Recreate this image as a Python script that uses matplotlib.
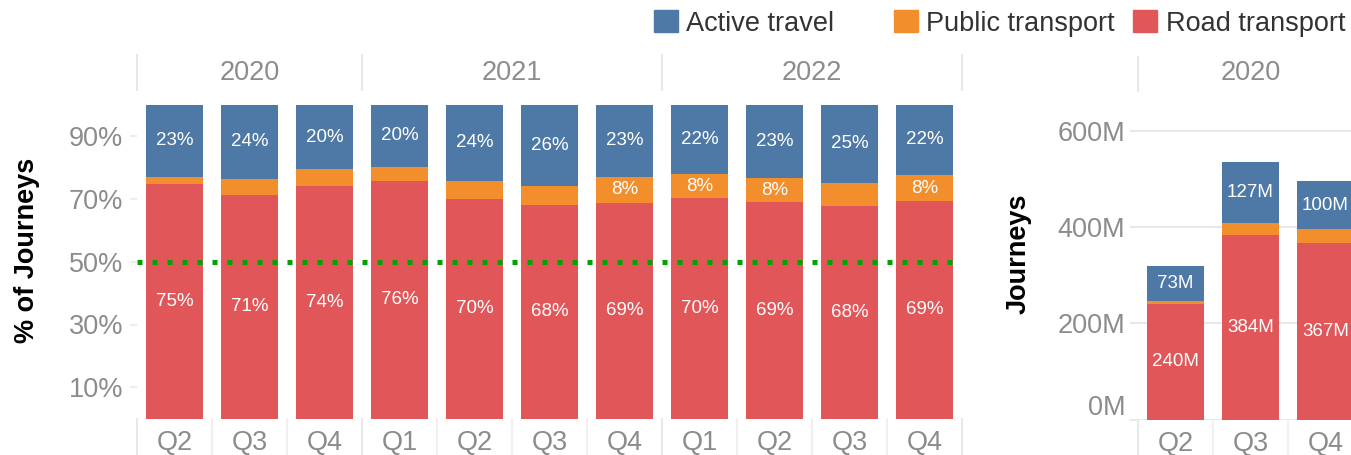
import matplotlib
matplotlib.use('Agg')
import matplotlib.pyplot as plt
import matplotlib.transforms as mtransforms
from matplotlib.patches import Patch

plt.rcParams['font.family'] = ['Liberation Sans', 'DejaVu Sans']

# ---- data ----
quarters = ['Q2', 'Q3', 'Q4', 'Q1', 'Q2', 'Q3', 'Q4', 'Q1', 'Q2', 'Q3', 'Q4']
years = ['2020', '2021', '2022']
year_bounds = [-0.5, 2.5, 6.5, 10.5]

road_pct = [74.7, 71.2, 74.1, 75.7, 70.0, 68.0, 68.7, 70.3, 68.9, 67.7, 69.3]
public_pct = [2.3, 5.1, 5.4, 4.5, 5.7, 6.1, 8.3, 7.6, 7.6, 7.4, 8.3]
active_pct = [23.0, 23.7, 20.4, 19.8, 24.3, 25.9, 23.0, 22.1, 23.4, 24.9, 22.4]

abs_quarters = ['Q2', 'Q3', 'Q4']
road_m = [240, 384, 367]
public_m = [7, 24, 28]
active_m = [73, 127, 100]

series = ['Active travel', 'Public transport', 'Road transport']

C_ACTIVE = '#4e79a7'
C_PUBLIC = '#f28e2b'
C_ROAD = '#e15759'
GREY = '#8c8c8c'
LIGHT = '#e8e8e8'

W, H = 1351, 455
fig = plt.figure(figsize=(W / 100, H / 100), dpi=100)

# ---- left: share of journeys ----
ax1 = fig.add_axes([137 / W, 1 - 418.7 / H, 825 / W, 314 / H])
x = list(range(len(quarters)))
bw = 0.76
bottom_pub = road_pct
bottom_act = [r + p for r, p in zip(road_pct, public_pct)]
ax1.bar(x, road_pct, bw, color=C_ROAD)
ax1.bar(x, public_pct, bw, bottom=bottom_pub, color=C_PUBLIC)
ax1.bar(x, active_pct, bw, bottom=bottom_act, color=C_ACTIVE)

for i in x:
    ax1.text(i, road_pct[i] / 2, f'{road_pct[i]:.0f}%', ha='center', va='center',
             color='white', fontsize=13.5)
    ax1.text(i, bottom_act[i] + active_pct[i] / 2, f'{active_pct[i]:.0f}%',
             ha='center', va='center', color='white', fontsize=13.5)
    if round(public_pct[i]) >= 8:
        ax1.text(i, bottom_pub[i] + public_pct[i] / 2, f'{public_pct[i]:.0f}%',
                 ha='center', va='center', color='white', fontsize=13.5)

ax1.axhline(50, color='#00a300', lw=3.6, ls=(0, (1, 2)), zorder=3)
ax1.set_xlim(-0.5, 10.5)
ax1.set_ylim(0, 100)
ax1.set_yticks([10, 30, 50, 70, 90])
ax1.set_yticklabels(['10%', '30%', '50%', '70%', '90%'])
ax1.set_xticks(x)
ax1.set_xticklabels(quarters)
ax1.tick_params(axis='y', colors='#ededed', labelcolor=GREY, labelsize=19.5,
                length=5, width=1.5, pad=5)
ax1.tick_params(axis='x', length=0, labelcolor=GREY, labelsize=19.5, pad=8)
for s in ax1.spines.values():
    s.set_visible(False)
ax1.set_ylabel('% of Journeys', fontsize=19.5, fontweight='bold', color='black')
ax1.yaxis.set_label_coords(-0.117, 0.537)

tr1 = mtransforms.blended_transform_factory(ax1.transData, ax1.transAxes)
for b in year_bounds:
    ax1.plot([b, b], [1.047, 1.158], color=LIGHT, lw=1.5, transform=tr1, clip_on=False)
for b in [q - 0.5 for q in range(len(quarters) + 1)]:
    ax1.plot([b, b], [0, -0.115], color=LIGHT if b in year_bounds else '#f0f0f0',
             lw=1.5, transform=tr1, clip_on=False)
for yr, a, b in zip(years, year_bounds[:-1], year_bounds[1:]):
    ax1.text((a + b) / 2, 1.101, yr, ha='center', va='center', color=GREY,
             fontsize=19.5, transform=tr1)

# ---- right: absolute journeys ----
ax2 = fig.add_axes([1138 / W, 1 - 419.6 / H, 225 / W, 313 / H])
x2 = list(range(len(abs_quarters)))
bot_pub_m = road_m
bot_act_m = [r + p for r, p in zip(road_m, public_m)]
ax2.bar(x2, road_m, bw, color=C_ROAD, zorder=2)
ax2.bar(x2, public_m, bw, bottom=bot_pub_m, color=C_PUBLIC, zorder=2)
ax2.bar(x2, active_m, bw, bottom=bot_act_m, color=C_ACTIVE, zorder=2)
for i in x2:
    ax2.text(i, road_m[i] / 2, f'{road_m[i]}M', ha='center', va='center',
             color='white', fontsize=13.5, zorder=3)
    ax2.text(i, bot_act_m[i] + active_m[i] / 2, f'{active_m[i]}M', ha='center',
             va='center', color='white', fontsize=13.5, zorder=3)

ax2.set_xlim(-0.5, 2.5)
ax2.set_ylim(0, 650)
ax2.set_yticks([0, 200, 400, 600])
ax2.set_yticklabels(['0M', '200M', '400M', '600M'])
ax2.set_xticks(x2)
ax2.set_xticklabels(abs_quarters)
ax2.grid(axis='y', color=LIGHT, lw=1.5, zorder=0)
ax2.tick_params(axis='y', colors=LIGHT, labelcolor=GREY, labelsize=19.5,
                length=6, width=1.5, pad=3)
ax2.tick_params(axis='x', length=0, labelcolor=GREY, labelsize=19.5, pad=8)
for s in ax2.spines.values():
    s.set_visible(False)
# lift the 0M label like the original
zero_lbl = ax2.get_yticklabels()[0]
zero_lbl.set_transform(zero_lbl.get_transform()
                       + mtransforms.ScaledTranslation(0, 0.15, fig.dpi_scale_trans))
ax2.axhline(0, color='#dddddd', lw=1, ls=(0, (3, 3)), zorder=1)
ax2.set_ylabel('Journeys', fontsize=19.5, fontweight='bold', color='black')
ax2.yaxis.set_label_coords(-0.471, 0.529)

tr2 = mtransforms.blended_transform_factory(ax2.transData, ax2.transAxes)
ax2.plot([-0.5, -0.5], [1.05, 1.16], color=LIGHT, lw=1.5, transform=tr2, clip_on=False)
for b in [-0.5, 0.5, 1.5]:
    ax2.plot([b, b], [0, -0.115], color=LIGHT if b == -0.5 else '#f0f0f0',
             lw=1.5, transform=tr2, clip_on=False)
ax2.text(1, 1.107, '2020', ha='center', va='center', color=GREY, fontsize=19.5,
         transform=tr2)

# ---- legend (one entry each, placed like the original) ----
legend_x = [654, 894, 1133]
for name, col, lx in zip(series, [C_ACTIVE, C_PUBLIC, C_ROAD], legend_x):
    fig.legend(handles=[Patch(color=col, label=name)], loc='upper left',
               bbox_to_anchor=(lx / W, 1 - 10 / H), frameon=False, fontsize=19.5,
               labelcolor='#333333', handlelength=0.9, handleheight=0.9,
               handletextpad=0.3, borderpad=0, borderaxespad=0)

fig.savefig('out.png', dpi=100)
